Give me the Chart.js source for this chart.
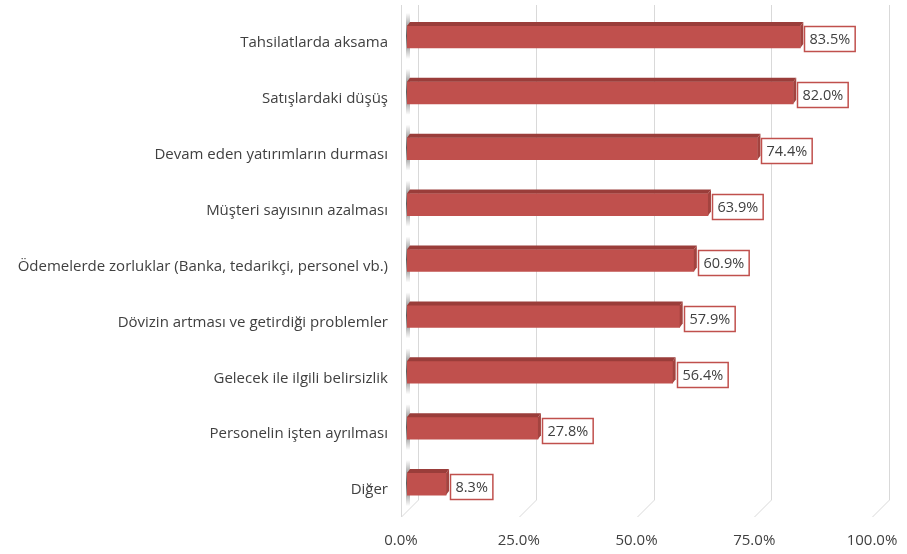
<!DOCTYPE html>
<html>
<head>
<meta charset="utf-8">
<script src="https://cdn.jsdelivr.net/npm/chart.js@4/dist/chart.umd.min.js"></script>
<style>
  html, body { margin: 0; padding: 0; background: #fff; }
  #wrap { width: 907px; height: 554px; position: relative; }
</style>
</head>
<body>
<div id="wrap"><canvas id="chart"></canvas></div>
<script>
// categories and values
const categories = [
  'Tahsilatlarda aksama',
  'Satışlardaki düşüş',
  'Devam eden yatırımların durması',
  'Müşteri sayısının azalması',
  'Ödemelerde zorluklar (Banka, tedarikçi, personel vb.)',
  'Dövizin artması ve getirdiği problemler',
  'Gelecek ile ilgili belirsizlik',
  'Personelin işten ayrılması',
  'Diğer'
];
const values = [83.5, 82.0, 74.4, 63.9, 60.9, 57.9, 56.4, 27.8, 8.3];
const xTicks = [0, 25, 50, 75, 100];

const FONT = 'Open Sans';
const TEXT = '#404040';
const RED = '#C0504D';

// 3D-ish walls and gridlines behind the bars
const wallPlugin = {
  id: 'wall3d',
  beforeDatasetsDraw(chart) {
    const ctx = chart.ctx;
    const area = chart.chartArea;
    const x = chart.scales.x;
    ctx.save();
    ctx.strokeStyle = '#D9D9D9';
    ctx.lineWidth = 1;
    xTicks.forEach(v => {
      const px = Math.round(x.getPixelForValue(v)) + 0.5;
      const back = px + 11, front = px - 6;
      ctx.beginPath();
      ctx.moveTo(back, area.top - 4);
      ctx.lineTo(back, area.bottom - 12);
      ctx.lineTo(front, area.bottom + 5);
      ctx.stroke();
      if (v === 0) {
        ctx.beginPath();
        ctx.moveTo(front, area.top - 4);
        ctx.lineTo(front, area.bottom + 5);
        ctx.stroke();
      }
    });
    // shadow of each bar on the left wall
    const meta = chart.getDatasetMeta(0);
    meta.data.forEach(el => {
      const top = el.y - el.height / 2 - 13, bot = el.y + el.height / 2 + 11;
      const g = ctx.createLinearGradient(0, top, 0, bot);
      g.addColorStop(0, 'rgba(50,50,50,0)');
      g.addColorStop(0.5, 'rgba(50,50,50,0.8)');
      g.addColorStop(1, 'rgba(50,50,50,0)');
      ctx.fillStyle = g;
      ctx.fillRect(x.getPixelForValue(0) - 1, top, 4, bot - top);
    });
    ctx.restore();
  }
};

// top and side faces of the bars plus the boxed value labels
const barPlugin = {
  id: 'bar3d',
  afterDatasetsDraw(chart) {
    const ctx = chart.ctx;
    const meta = chart.getDatasetMeta(0);
    const dx = 3, dy = 4;
    ctx.save();
    meta.data.forEach((el, i) => {
      const x0 = el.base, x1 = el.x;
      const yT = el.y - el.height / 2, yB = el.y + el.height / 2;
      ctx.fillStyle = '#9A3D3A';
      ctx.beginPath();
      ctx.moveTo(x0, yT);
      ctx.lineTo(x0 + dx, yT - dy);
      ctx.lineTo(x1 + dx, yT - dy);
      ctx.lineTo(x1, yT);
      ctx.closePath();
      ctx.fill();
      ctx.fillStyle = '#A3433F';
      ctx.beginPath();
      ctx.moveTo(x1, yT);
      ctx.lineTo(x1 + dx, yT - dy);
      ctx.lineTo(x1 + dx, yB - dy);
      ctx.lineTo(x1, yB);
      ctx.closePath();
      ctx.fill();

      const txt = values[i].toFixed(1) + '%';
      ctx.font = '14.5px "' + FONT + '"';
      const w = ctx.measureText(txt).width + 10;
      const h = 25;
      const bx = Math.round(x1 + dx + 1) + 0.5;
      const by = Math.round(el.y + 2 - h / 2) + 0.5;
      ctx.fillStyle = '#fff';
      ctx.fillRect(bx, by, w, h);
      ctx.strokeStyle = RED;
      ctx.lineWidth = 1.5;
      ctx.strokeRect(bx, by, w, h);
      ctx.fillStyle = TEXT;
      ctx.textAlign = 'center';
      ctx.textBaseline = 'middle';
      ctx.fillText(txt, bx + w / 2, by + h / 2 + 1);
    });
    ctx.restore();
  }
};

new Chart(document.getElementById('chart').getContext('2d'), {
  type: 'bar',
  data: {
    labels: categories,
    datasets: [{
      data: values,
      backgroundColor: RED,
      borderWidth: 0,
      barThickness: 22
    }]
  },
  options: {
    indexAxis: 'y',
    responsive: true,
    maintainAspectRatio: false,
    animation: false,
    layout: { padding: { top: 9, right: 29, bottom: 6, left: 0 } },
    plugins: { legend: { display: false }, tooltip: { enabled: false } },
    scales: {
      x: {
        min: 0,
        max: 100,
        afterBuildTicks(scale) { scale.ticks = xTicks.map(v => ({ value: v })); },
        afterFit(scale) {
          scale.height = 36;
          scale.paddingLeft = 0;
          scale.paddingRight = 0;
        },
        grid: { display: false, drawTicks: false },
        border: { display: false },
        ticks: {
          padding: 20,
          labelOffset: -6,
          color: TEXT,
          font: { family: FONT, size: 15 },
          callback: v => v.toFixed(1) + '%'
        }
      },
      y: {
        grid: { display: false, drawTicks: false },
        border: { display: false },
        afterFit(scale) {
          scale.width = 407;
          scale.paddingTop = 0;
          scale.paddingBottom = 0;
        },
        ticks: {
          padding: 19,
          labelOffset: 6,
          color: TEXT,
          font: { family: FONT, size: 15 }
        }
      }
    }
  },
  plugins: [wallPlugin, barPlugin]
});
</script>
</body>
</html>
